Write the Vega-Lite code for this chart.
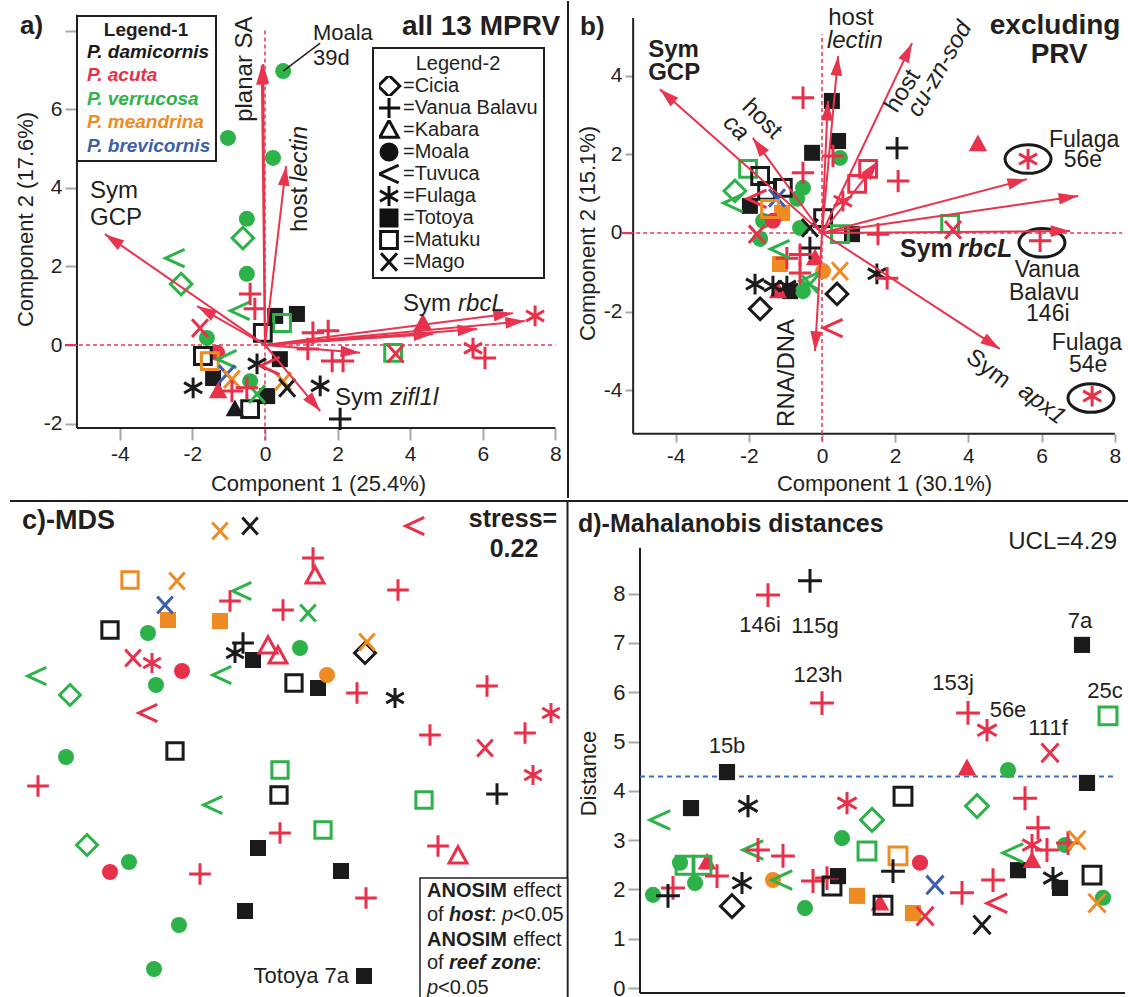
{
"$schema":"https://vega.github.io/schema/vega-lite/v6.json",
"padding":0,
"background":"white",
"spacing":0,
"config":{
 "view":{"stroke":null},
 "font":"Liberation Sans",
 "axis":{"domain":false,"grid":false,"tickColor":"#a8a8a8","tickWidth":2,"labelFontSize":21,"labelColor":"#231f20","labelFont":"Liberation Sans","titleFont":"Liberation Sans","titleFontSize":22,"titleFontWeight":"normal","titleColor":"#231f20","labelPadding":3},
 "text":{"font":"Liberation Sans","color":"#231f20"}
},
"datasets":{
 "a_pts":[
  {"sp":"P. verrucosa","site":"Moala","x":-1.02,"y":5.27},
  {"sp":"P. verrucosa","site":"Moala","x":0.22,"y":4.76},
  {"sp":"P. verrucosa","site":"Moala","x":0.50,"y":6.97},
  {"sp":"P. verrucosa","site":"Moala","x":-0.50,"y":3.21},
  {"sp":"P. verrucosa","site":"Cicia","x":-0.61,"y":2.72},
  {"sp":"P. verrucosa","site":"Moala","x":-0.50,"y":1.81},
  {"sp":"P. verrucosa","site":"Tuvuca","x":-2.48,"y":2.21},
  {"sp":"P. verrucosa","site":"Cicia","x":-2.31,"y":1.55},
  {"sp":"P. verrucosa","site":"Tuvuca","x":-0.69,"y":0.87},
  {"sp":"P. acuta","site":"Vanua Balavu","x":-0.41,"y":1.30},
  {"sp":"P. acuta","site":"Vanua Balavu","x":-0.28,"y":0.92},
  {"sp":"P. damicornis","site":"Totoya","x":0.28,"y":0.74},
  {"sp":"P. damicornis","site":"Totoya","x":0.88,"y":0.79},
  {"sp":"P. verrucosa","site":"Matuku","x":0.47,"y":0.56},
  {"sp":"P. damicornis","site":"Matuku","x":-0.06,"y":0.31},
  {"sp":"P. acuta","site":"Vanua Balavu","x":1.32,"y":0.31},
  {"sp":"P. acuta","site":"Vanua Balavu","x":1.74,"y":0.36},
  {"sp":"P. acuta","site":"Vanua Balavu","x":1.18,"y":-0.10},
  {"sp":"P. acuta","site":"Vanua Balavu","x":1.85,"y":-0.41},
  {"sp":"P. acuta","site":"Vanua Balavu","x":2.15,"y":-0.41},
  {"sp":"P. verrucosa","site":"Matuku","x":3.53,"y":-0.20},
  {"sp":"P. acuta","site":"Mago","x":3.60,"y":-0.22},
  {"sp":"P. acuta","site":"Fulaga","x":5.73,"y":-0.08},
  {"sp":"P. acuta","site":"Vanua Balavu","x":6.06,"y":-0.33},
  {"sp":"P. acuta","site":"Fulaga","x":7.44,"y":0.74},
  {"sp":"P. acuta","site":"Kabara","x":4.35,"y":0.56},
  {"sp":"P. damicornis","site":"Fulaga","x":1.52,"y":-1.04},
  {"sp":"P. damicornis","site":"Vanua Balavu","x":2.07,"y":-1.88},
  {"sp":"P. acuta","site":"Mago","x":-1.79,"y":0.43},
  {"sp":"P. verrucosa","site":"Moala","x":-1.60,"y":0.18},
  {"sp":"P. damicornis","site":"Matuku","x":-1.71,"y":-0.28},
  {"sp":"P. acuta","site":"Moala","x":-1.32,"y":-0.20},
  {"sp":"P. meandrina","site":"Matuku","x":-1.52,"y":-0.41},
  {"sp":"P. verrucosa","site":"Tuvuca","x":-1.05,"y":-0.36},
  {"sp":"P. damicornis","site":"Fulaga","x":-0.22,"y":-0.48},
  {"sp":"P. damicornis","site":"Totoya","x":0.41,"y":-0.36},
  {"sp":"P. brevicornis","site":"Mago","x":-1.05,"y":-0.74},
  {"sp":"P. meandrina","site":"Mago","x":-0.91,"y":-0.87},
  {"sp":"P. meandrina","site":"Mago","x":0.50,"y":-0.92},
  {"sp":"P. damicornis","site":"Fulaga","x":-1.98,"y":-1.09},
  {"sp":"P. damicornis","site":"Totoya","x":-1.43,"y":-0.84},
  {"sp":"P. acuta","site":"Kabara","x":-1.29,"y":-1.17},
  {"sp":"P. acuta","site":"Vanua Balavu","x":-0.91,"y":-1.17},
  {"sp":"P. verrucosa","site":"Moala","x":-0.41,"y":-0.92},
  {"sp":"P. damicornis","site":"Totoya","x":0.06,"y":-1.30},
  {"sp":"P. damicornis","site":"Kabara","x":-0.83,"y":-1.63},
  {"sp":"P. damicornis","site":"Matuku","x":-0.41,"y":-1.63},
  {"sp":"P. damicornis","site":"Mago","x":0.61,"y":-1.09},
  {"sp":"P. verrucosa","site":"Mago","x":-0.22,"y":-1.25},
  {"sp":"P. acuta","site":"Vanua Balavu","x":-0.50,"y":-1.09},
  {"sp":"P. acuta","site":"Tuvuca","x":0.14,"y":-0.53}
 ],
 "a_vec":[
  {"x":-4.41,"y":2.82},{"x":-1.87,"y":0.99},{"x":-0.05,"y":7.15},{"x":-0.09,"y":7.12},{"x":0.58,"y":4.55},
  {"x":6.83,"y":0.81},{"x":7.16,"y":0.61},{"x":5.84,"y":0.41},{"x":4.63,"y":0.28},{"x":2.62,"y":-0.20},{"x":1.52,"y":-1.68}
 ],
 "b_pts":[
  {"sp":"P. acuta","site":"Vanua Balavu","x":-0.52,"y":3.44},
  {"sp":"P. damicornis","site":"Totoya","x":0.27,"y":3.36},
  {"sp":"P. damicornis","site":"Totoya","x":0.44,"y":2.34},
  {"sp":"P. damicornis","site":"Totoya","x":-0.27,"y":2.04},
  {"sp":"P. acuta","site":"Vanua Balavu","x":0.30,"y":1.96},
  {"sp":"P. verrucosa","site":"Moala","x":0.49,"y":1.91},
  {"sp":"P. acuta","site":"Vanua Balavu","x":-0.52,"y":1.53},
  {"sp":"P. verrucosa","site":"Matuku","x":-2.02,"y":1.63},
  {"sp":"P. damicornis","site":"Matuku","x":-1.69,"y":1.45},
  {"sp":"P. damicornis","site":"Matuku","x":-1.50,"y":1.07},
  {"sp":"P. damicornis","site":"Matuku","x":-1.07,"y":1.15},
  {"sp":"P. verrucosa","site":"Cicia","x":-2.38,"y":1.07},
  {"sp":"P. verrucosa","site":"Tuvuca","x":-2.43,"y":0.76},
  {"sp":"P. acuta","site":"Tuvuca","x":-1.78,"y":0.87},
  {"sp":"P. brevicornis","site":"Mago","x":-1.23,"y":0.89},
  {"sp":"P. meandrina","site":"Matuku","x":-1.42,"y":0.61},
  {"sp":"P. meandrina","site":"Totoya","x":-1.09,"y":0.51},
  {"sp":"P. verrucosa","site":"Moala","x":-0.52,"y":1.15},
  {"sp":"P. verrucosa","site":"Moala","x":-0.68,"y":0.87},
  {"sp":"P. damicornis","site":"Totoya","x":-1.97,"y":0.69},
  {"sp":"P. verrucosa","site":"Moala","x":-1.61,"y":0.31},
  {"sp":"P. acuta","site":"Moala","x":-1.34,"y":0.31},
  {"sp":"P. acuta","site":"Mago","x":-1.78,"y":-0.03},
  {"sp":"P. verrucosa","site":"Moala","x":-1.69,"y":-0.15},
  {"sp":"P. verrucosa","site":"Moala","x":-0.60,"y":0.13},
  {"sp":"P. damicornis","site":"Mago","x":-0.33,"y":0.13},
  {"sp":"P. damicornis","site":"Matuku","x":0.03,"y":0.38},
  {"sp":"P. damicornis","site":"Vanua Balavu","x":-0.33,"y":-0.38},
  {"sp":"P. acuta","site":"Kabara","x":-0.19,"y":-0.64},
  {"sp":"P. acuta","site":"Vanua Balavu","x":-0.96,"y":-0.64},
  {"sp":"P. meandrina","site":"Totoya","x":-1.15,"y":-0.79},
  {"sp":"P. meandrina","site":"Moala","x":0.03,"y":-0.97},
  {"sp":"P. meandrina","site":"Mago","x":0.49,"y":-0.97},
  {"sp":"P. damicornis","site":"Cicia","x":0.41,"y":-1.55},
  {"sp":"P. acuta","site":"Tuvuca","x":0.30,"y":-2.42},
  {"sp":"P. damicornis","site":"Fulaga","x":-1.83,"y":-1.30},
  {"sp":"P. damicornis","site":"Fulaga","x":-1.34,"y":-1.35},
  {"sp":"P. damicornis","site":"Fulaga","x":-0.96,"y":-1.35},
  {"sp":"P. damicornis","site":"Totoya","x":-0.87,"y":-1.48},
  {"sp":"P. acuta","site":"Kabara","x":-1.20,"y":-1.48},
  {"sp":"P. verrucosa","site":"Moala","x":-0.52,"y":-1.48},
  {"sp":"P. damicornis","site":"Cicia","x":-1.69,"y":-1.93},
  {"sp":"P. verrucosa","site":"Mago","x":-0.33,"y":-1.30},
  {"sp":"P. damicornis","site":"Vanua Balavu","x":2.05,"y":2.16},
  {"sp":"P. acuta","site":"Vanua Balavu","x":2.08,"y":1.32},
  {"sp":"P. acuta","site":"Matuku","x":1.26,"y":1.63},
  {"sp":"P. acuta","site":"Matuku","x":0.96,"y":1.25},
  {"sp":"P. acuta","site":"Fulaga","x":0.57,"y":0.81},
  {"sp":"P. acuta","site":"Vanua Balavu","x":1.53,"y":-0.03},
  {"sp":"P. damicornis","site":"Totoya","x":0.82,"y":-0.03},
  {"sp":"P. verrucosa","site":"Matuku","x":0.49,"y":-0.03},
  {"sp":"P. verrucosa","site":"Matuku","x":3.50,"y":0.23},
  {"sp":"P. acuta","site":"Mago","x":3.58,"y":0.08},
  {"sp":"P. damicornis","site":"Fulaga","x":1.50,"y":-1.04},
  {"sp":"P. acuta","site":"Vanua Balavu","x":1.78,"y":-1.15},
  {"sp":"P. acuta","site":"Kabara","x":4.26,"y":2.26},
  {"sp":"P. acuta","site":"Fulaga","x":5.63,"y":1.88},
  {"sp":"P. acuta","site":"Vanua Balavu","x":5.96,"y":-0.20},
  {"sp":"P. acuta","site":"Fulaga","x":7.38,"y":-4.15},
  {"sp":"P. verrucosa","site":"Tuvuca","x":-1.15,"y":-0.41},
  {"sp":"P. verrucosa","site":"Tuvuca","x":-0.33,"y":-1.22},
  {"sp":"P. acuta","site":"Vanua Balavu","x":-0.60,"y":-0.55},
  {"sp":"P. acuta","site":"Vanua Balavu","x":-0.60,"y":-1.02}
 ],
 "b_vec":[
  {"x":-4.43,"y":3.66},{"x":-1.89,"y":2.42},{"x":0.44,"y":4.50},{"x":0.16,"y":3.36},{"x":2.46,"y":4.83},{"x":1.53,"y":1.83},
  {"x":5.60,"y":1.37},{"x":7.00,"y":0.94},{"x":6.78,"y":0.05},{"x":4.86,"y":-2.95},{"x":-0.19,"y":-3.00}
 ],
 "b_out":[{"x":5.63,"y":1.88},{"x":6.01,"y":-0.25},{"x":7.35,"y":-4.2}],
 "c_pts":[
  {"sp":"P. meandrina","site":"Mago","x":-0.64,"y":2.19},
  {"sp":"P. damicornis","site":"Mago","x":-0.34,"y":2.24},
  {"sp":"P. meandrina","site":"Matuku","x":-1.54,"y":1.70},
  {"sp":"P. meandrina","site":"Mago","x":-1.07,"y":1.69},
  {"sp":"P. brevicornis","site":"Mago","x":-1.19,"y":1.45},
  {"sp":"P. meandrina","site":"Totoya","x":-1.16,"y":1.30},
  {"sp":"P. meandrina","site":"Totoya","x":-0.64,"y":1.29},
  {"sp":"P. verrucosa","site":"Tuvuca","x":-0.42,"y":1.59},
  {"sp":"P. acuta","site":"Vanua Balavu","x":-0.54,"y":1.49},
  {"sp":"P. acuta","site":"Vanua Balavu","x":-0.01,"y":1.40},
  {"sp":"P. damicornis","site":"Matuku","x":-1.74,"y":1.20},
  {"sp":"P. verrucosa","site":"Moala","x":-1.36,"y":1.17},
  {"sp":"P. acuta","site":"Mago","x":-1.51,"y":0.92},
  {"sp":"P. acuta","site":"Fulaga","x":-1.32,"y":0.87},
  {"sp":"P. acuta","site":"Moala","x":-1.02,"y":0.79},
  {"sp":"P. verrucosa","site":"Moala","x":-1.28,"y":0.65},
  {"sp":"P. verrucosa","site":"Tuvuca","x":-2.47,"y":0.74},
  {"sp":"P. verrucosa","site":"Cicia","x":-2.14,"y":0.55},
  {"sp":"P. acuta","site":"Tuvuca","x":-1.36,"y":0.37},
  {"sp":"P. verrucosa","site":"Tuvuca","x":-0.62,"y":0.75},
  {"sp":"P. damicornis","site":"Fulaga","x":-0.49,"y":0.97},
  {"sp":"P. damicornis","site":"Vanua Balavu","x":-0.41,"y":1.07},
  {"sp":"P. damicornis","site":"Totoya","x":-0.31,"y":0.90},
  {"sp":"P. acuta","site":"Kabara","x":-0.16,"y":1.04},
  {"sp":"P. acuta","site":"Kabara","x":-0.06,"y":0.94},
  {"sp":"P. damicornis","site":"Matuku","x":-1.09,"y":-0.01},
  {"sp":"P. verrucosa","site":"Moala","x":-2.18,"y":-0.07},
  {"sp":"P. acuta","site":"Vanua Balavu","x":-2.46,"y":-0.36},
  {"sp":"P. verrucosa","site":"Tuvuca","x":-0.71,"y":-0.55},
  {"sp":"P. verrucosa","site":"Matuku","x":-0.04,"y":-0.20},
  {"sp":"P. damicornis","site":"Matuku","x":-0.05,"y":-0.45},
  {"sp":"P. acuta","site":"Vanua Balavu","x":-0.04,"y":-0.83},
  {"sp":"P. damicornis","site":"Totoya","x":-0.26,"y":-0.98},
  {"sp":"P. verrucosa","site":"Cicia","x":-1.97,"y":-0.95},
  {"sp":"P. verrucosa","site":"Moala","x":-1.55,"y":-1.12},
  {"sp":"P. acuta","site":"Moala","x":-1.74,"y":-1.22},
  {"sp":"P. acuta","site":"Vanua Balavu","x":-0.84,"y":-1.24},
  {"sp":"P. damicornis","site":"Totoya","x":-0.39,"y":-1.61},
  {"sp":"P. verrucosa","site":"Moala","x":-1.05,"y":-1.75},
  {"sp":"P. verrucosa","site":"Moala","x":-1.30,"y":-2.19},
  {"sp":"P. acuta","site":"Tuvuca","x":1.31,"y":2.24},
  {"sp":"P. acuta","site":"Vanua Balavu","x":0.29,"y":1.92},
  {"sp":"P. acuta","site":"Kabara","x":0.31,"y":1.74},
  {"sp":"P. acuta","site":"Vanua Balavu","x":1.14,"y":1.60},
  {"sp":"P. verrucosa","site":"Mago","x":0.24,"y":1.37},
  {"sp":"P. verrucosa","site":"Moala","x":0.16,"y":1.02},
  {"sp":"P. damicornis","site":"Cicia","x":0.81,"y":0.97},
  {"sp":"P. meandrina","site":"Mago","x":0.83,"y":1.08},
  {"sp":"P. damicornis","site":"Matuku","x":0.10,"y":0.67},
  {"sp":"P. damicornis","site":"Totoya","x":0.34,"y":0.62},
  {"sp":"P. meandrina","site":"Moala","x":0.43,"y":0.75},
  {"sp":"P. acuta","site":"Vanua Balavu","x":0.73,"y":0.57},
  {"sp":"P. damicornis","site":"Fulaga","x":1.11,"y":0.52},
  {"sp":"P. acuta","site":"Vanua Balavu","x":2.03,"y":0.64},
  {"sp":"P. acuta","site":"Fulaga","x":2.67,"y":0.37},
  {"sp":"P. acuta","site":"Vanua Balavu","x":2.41,"y":0.17},
  {"sp":"P. acuta","site":"Mago","x":2.01,"y":0.02},
  {"sp":"P. acuta","site":"Vanua Balavu","x":1.46,"y":0.15},
  {"sp":"P. acuta","site":"Fulaga","x":2.49,"y":-0.25},
  {"sp":"P. damicornis","site":"Vanua Balavu","x":2.13,"y":-0.44},
  {"sp":"P. verrucosa","site":"Matuku","x":1.40,"y":-0.50},
  {"sp":"P. verrucosa","site":"Matuku","x":0.39,"y":-0.80},
  {"sp":"P. acuta","site":"Vanua Balavu","x":1.54,"y":-0.96},
  {"sp":"P. acuta","site":"Kabara","x":1.74,"y":-1.06},
  {"sp":"P. damicornis","site":"Totoya","x":0.57,"y":-1.21},
  {"sp":"P. acuta","site":"Vanua Balavu","x":0.82,"y":-1.48},
  {"sp":"P. damicornis","site":"Totoya","x":0.80,"y":-2.26}
 ],
 "d_pts":[
  {"sp":"P. acuta","site":"Vanua Balavu","order":128,"dist":7.97},
  {"sp":"P. damicornis","site":"Vanua Balavu","order":170,"dist":8.26},
  {"sp":"P. acuta","site":"Vanua Balavu","order":182,"dist":5.78},
  {"sp":"P. damicornis","site":"Totoya","order":87,"dist":4.38},
  {"sp":"P. verrucosa","site":"Tuvuca","order":20,"dist":3.41},
  {"sp":"P. damicornis","site":"Totoya","order":51,"dist":3.65},
  {"sp":"P. damicornis","site":"Fulaga","order":108,"dist":3.69},
  {"sp":"P. acuta","site":"Fulaga","order":207,"dist":3.75},
  {"sp":"P. verrucosa","site":"Moala","order":202,"dist":3.04},
  {"sp":"P. verrucosa","site":"Tuvuca","order":113,"dist":2.80},
  {"sp":"P. acuta","site":"Vanua Balavu","order":118,"dist":2.80},
  {"sp":"P. acuta","site":"Vanua Balavu","order":143,"dist":2.68},
  {"sp":"P. verrucosa","site":"Moala","order":40,"dist":2.54},
  {"sp":"P. verrucosa","site":"Moala","order":55,"dist":2.13},
  {"sp":"P. verrucosa","site":"Moala","order":13,"dist":1.89},
  {"sp":"P. verrucosa","site":"Matuku","order":45,"dist":2.49},
  {"sp":"P. verrucosa","site":"Matuku","order":62,"dist":2.49},
  {"sp":"P. acuta","site":"Vanua Balavu","order":77,"dist":2.27},
  {"sp":"P. acuta","site":"Vanua Balavu","order":33,"dist":2.03},
  {"sp":"P. acuta","site":"Kabara","order":67,"dist":2.55},
  {"sp":"P. damicornis","site":"Vanua Balavu","order":28,"dist":1.87},
  {"sp":"P. damicornis","site":"Fulaga","order":102,"dist":2.13},
  {"sp":"P. damicornis","site":"Cicia","order":92,"dist":1.66},
  {"sp":"P. meandrina","site":"Moala","order":133,"dist":2.19},
  {"sp":"P. verrucosa","site":"Tuvuca","order":142,"dist":2.19},
  {"sp":"P. verrucosa","site":"Moala","order":165,"dist":1.62},
  {"sp":"P. acuta","site":"Vanua Balavu","order":173,"dist":2.17},
  {"sp":"P. acuta","site":"Vanua Balavu","order":187,"dist":2.23},
  {"sp":"P. damicornis","site":"Matuku","order":192,"dist":2.07},
  {"sp":"P. damicornis","site":"Totoya","order":198,"dist":2.27},
  {"sp":"P. meandrina","site":"Totoya","order":217,"dist":1.87},
  {"sp":"P. verrucosa","site":"Matuku","order":227,"dist":2.78},
  {"sp":"P. damicornis","site":"Matuku","order":263,"dist":3.89},
  {"sp":"P. verrucosa","site":"Cicia","order":232,"dist":3.41},
  {"sp":"P. meandrina","site":"Matuku","order":258,"dist":2.68},
  {"sp":"P. acuta","site":"Moala","order":280,"dist":2.54},
  {"sp":"P. damicornis","site":"Vanua Balavu","order":253,"dist":2.37},
  {"sp":"P. damicornis","site":"Matuku","order":243,"dist":1.68},
  {"sp":"P. acuta","site":"Kabara","order":240,"dist":1.72},
  {"sp":"P. meandrina","site":"Totoya","order":273,"dist":1.52},
  {"sp":"P. acuta","site":"Mago","order":285,"dist":1.46},
  {"sp":"P. brevicornis","site":"Mago","order":295,"dist":2.09},
  {"sp":"P. acuta","site":"Vanua Balavu","order":322,"dist":1.93},
  {"sp":"P. acuta","site":"Vanua Balavu","order":353,"dist":2.19},
  {"sp":"P. acuta","site":"Tuvuca","order":357,"dist":1.72},
  {"sp":"P. damicornis","site":"Mago","order":342,"dist":1.28},
  {"sp":"P. acuta","site":"Vanua Balavu","order":328,"dist":5.58},
  {"sp":"P. acuta","site":"Fulaga","order":347,"dist":5.23},
  {"sp":"P. acuta","site":"Kabara","order":327,"dist":4.46},
  {"sp":"P. verrucosa","site":"Moala","order":368,"dist":4.42},
  {"sp":"P. verrucosa","site":"Cicia","order":337,"dist":3.69},
  {"sp":"P. acuta","site":"Mago","order":410,"dist":4.77},
  {"sp":"P. acuta","site":"Vanua Balavu","order":385,"dist":3.85},
  {"sp":"P. acuta","site":"Vanua Balavu","order":398,"dist":3.25},
  {"sp":"P. acuta","site":"Fulaga","order":392,"dist":2.90},
  {"sp":"P. acuta","site":"Vanua Balavu","order":407,"dist":2.80},
  {"sp":"P. verrucosa","site":"Tuvuca","order":373,"dist":2.74},
  {"sp":"P. damicornis","site":"Totoya","order":378,"dist":2.39},
  {"sp":"P. acuta","site":"Kabara","order":392,"dist":2.58},
  {"sp":"P. acuta","site":"Vanua Balavu","order":428,"dist":2.94},
  {"sp":"P. verrucosa","site":"Moala","order":425,"dist":2.90},
  {"sp":"P. meandrina","site":"Mago","order":437,"dist":3.00},
  {"sp":"P. damicornis","site":"Fulaga","order":413,"dist":2.23},
  {"sp":"P. damicornis","site":"Totoya","order":420,"dist":2.03},
  {"sp":"P. damicornis","site":"Matuku","order":452,"dist":2.29},
  {"sp":"P. damicornis","site":"Totoya","order":447,"dist":4.16},
  {"sp":"P. damicornis","site":"Totoya","order":442,"dist":6.96},
  {"sp":"P. verrucosa","site":"Matuku","order":468,"dist":5.52},
  {"sp":"P. verrucosa","site":"Moala","order":463,"dist":1.83},
  {"sp":"P. meandrina","site":"Mago","order":457,"dist":1.72}
 ],
 "d_lab":[
  {"order":120,"dist":7.36,"text":"146i"},{"order":175,"dist":7.34,"text":"115g"},{"order":178,"dist":6.35,"text":"123h"},
  {"order":87,"dist":4.91,"text":"15b"},{"order":313,"dist":6.19,"text":"153j"},{"order":368,"dist":5.64,"text":"56e"},
  {"order":408,"dist":5.27,"text":"111f"},{"order":440,"dist":7.44,"text":"7a"},{"order":465,"dist":6.02,"text":"25c"}
 ]
},
"vconcat":[
 {"spacing":0,"bounds":"flush","hconcat":[
  {"width":568,"height":497,"data":{"values":[{}]},
   "layer":[
    {"mark":{"type":"rule","color":"#231f20","strokeWidth":2},
     "encoding":{
      "x":{"datum":-5.18,"type":"quantitative","scale":{"domain":[-7.3,8.347],"nice":false,"zero":false},
           "axis":{"orient":"bottom","offset":-70,"values":[-4,-2,0,2,4,6,8],"labelExpr":"''+datum.value","tickSize":12,"title":"Component 1  (25.4%)","titleX":318,"titleY":55,"titleAlign":"center","titleBaseline":"middle","titleAngle":0}},
      "y":{"datum":-2.11,"type":"quantitative","scale":{"domain":[-3.893,8.753],"nice":false,"zero":false},
           "axis":{"orient":"left","offset":-77,"values":[-2,0,2,4,6,8],"labelExpr":"datum.value==8?'':''+datum.value","tickSize":12,"title":"Component 2  (17.6%)","titleX":-52,"titleY":218,"titleAngle":-90,"titleAlign":"center","titleBaseline":"middle"}},
      "y2":{"datum":8.4}}},
    {"mark":{"type":"rule","color":"#231f20","strokeWidth":2},"encoding":{"x":{"datum":-5.18},"x2":{"datum":8.0},"y":{"datum":-2.11}}},
    {"mark":{"type":"rule","color":"#e8344e","strokeWidth":1.5,"strokeDash":[4,3]},"encoding":{"x":{"datum":-5.51},"x2":{"datum":8.0},"y":{"datum":0}}},
    {"mark":{"type":"rule","color":"#e8344e","strokeWidth":1.5,"strokeDash":[4,3]},"encoding":{"x":{"datum":0},"y":{"datum":-2.43},"y2":{"datum":8.0}}},
    {"mark":{"type":"rule","color":"#e8344e","strokeWidth":2},"encoding":{"x":{"datum":-5.51},"x2":{"datum":-5.18},"y":{"datum":0}}},
    {"mark":{"type":"rule","color":"#231f20","strokeWidth":2},"encoding":{"x":{"datum":8.347},"y":{"datum":-3.893},"y2":{"datum":8.753}}},
    {"data":{"name":"a_pts"},"transform":[{"filter":"indexof(['Moala','Totoya','Kabara'],datum.site)>=0"}],
     "mark":{"type":"point","filled":true,"size":256,"opacity":1},
     "encoding":{"x":{"field":"x","type":"quantitative"},"y":{"field":"y","type":"quantitative"},
      "color":{"field":"sp","type":"nominal","scale":{"domain":["P. damicornis","P. acuta","P. verrucosa","P. meandrina","P. brevicornis"],"range":["#1a1a1a","#e8304a","#2db24a","#ef8b23","#3d5fab"]},
        "legend":{"orient":"none","legendX":77,"legendY":15,"title":"Legend-1","titleFontSize":19,"titleFontWeight":"bold","titleAnchor":"middle","titlePadding":2,"titleColor":"#231f20","titleFont":"Liberation Sans","labelFont":"Liberation Sans","labelFontSize":19,"labelFontWeight":"bold","labelFontStyle":"italic","symbolSize":1,"symbolOpacity":0,"symbolStrokeWidth":0,"labelOffset":-14,"rowPadding":3.5,"padding":5,"strokeColor":"#231f20","fillColor":"white",
          "encode":{"labels":{"update":{"fill":{"scale":"color","field":"value"}}},"legend":{"update":{"strokeWidth":{"value":2}}}}}},
      "shape":{"field":"site","type":"nominal","scale":{"domain":["Cicia","Vanua Balavu","Kabara","Moala","Tuvuca","Fulaga","Totoya","Matuku","Mago"],"range":["M0,-1.35L1.35,0L0,1.35L-1.35,0Z","M-1.4,0L1.4,0M0,-1.4L0,1.4","M0,-1.2L1.15,0.9L-1.15,0.9Z","circle","M1.2,-1.1L-1.2,0L1.2,1.1","M0,-1.3L0,1.3M-1.13,-0.65L1.13,0.65M-1.13,0.65L1.13,-0.65","square","M-1.05,-1.05L1.05,-1.05L1.05,1.05L-1.05,1.05Z","M-1,-1.1L1,1.1M-1,1.1L1,-1.1"]},
        "legend":{"orient":"none","legendX":373,"legendY":47,"title":"Legend-2","titleFontSize":20,"titleFontWeight":"normal","titleAnchor":"middle","titlePadding":2,"titleColor":"#231f20","titleFont":"Liberation Sans","labelFont":"Liberation Sans","labelFontSize":20,"labelColor":"#231f20","labelExpr":"'='+datum.label","symbolSize":256,"symbolStrokeWidth":3,"symbolStrokeColor":"#111","symbolFillColor":"transparent","symbolOpacity":1,"labelOffset":4,"rowPadding":2,"clipHeight":20,"padding":6,"strokeColor":"#231f20","fillColor":"white",
          "encode":{"symbols":{"update":{"fill":{"signal":"indexof(['Moala','Totoya'],datum.value)>=0?'#111':'transparent'"},"stroke":{"value":"#111"},"strokeWidth":{"value":3},"opacity":{"value":1}}},"legend":{"update":{"strokeWidth":{"value":2}}}}}}}},
    {"data":{"name":"a_pts"},"transform":[{"filter":"indexof(['Moala','Totoya','Kabara'],datum.site)<0"}],
     "mark":{"type":"point","filled":false,"size":256,"opacity":1,"strokeWidth":3},
     "encoding":{"x":{"field":"x","type":"quantitative"},"y":{"field":"y","type":"quantitative"},
      "color":{"field":"sp","type":"nominal","legend":null},"shape":{"field":"site","type":"nominal","legend":null}}},
    {"data":{"name":"a_vec"},"mark":{"type":"rule","color":"#e8344e","strokeWidth":2},
     "encoding":{"x":{"field":"x","type":"quantitative"},"y":{"field":"y","type":"quantitative"},"x2":{"datum":0},"y2":{"datum":0}}},
    {"data":{"name":"a_vec"},"transform":[{"calculate":"(atan2(datum.x*36.3,datum.y*39.3)*180/PI+360)%360","as":"ang"}],
     "mark":{"type":"point","shape":"M0,0L0.6,2L-0.6,2Z","filled":true,"size":380,"opacity":1,"color":"#e8344e"},
     "encoding":{"x":{"field":"x","type":"quantitative"},"y":{"field":"y","type":"quantitative"},"angle":{"field":"ang","type":"quantitative","scale":null}}},
    {"mark":{"type":"rule","color":"#231f20","strokeWidth":1.5},"encoding":{"x":{"datum":0.5},"y":{"datum":6.97},"x2":{"datum":1.52},"y2":{"datum":7.68}}},
    {"mark":{"type":"text","text":"a)","fontSize":26,"fontWeight":"bold","align":"left"},"encoding":{"x":{"datum":-6.75},"y":{"datum":8.12}}},
    {"mark":{"type":"text","text":"all 13 MPRV","fontSize":28,"fontWeight":"bold","align":"right"},"encoding":{"x":{"datum":8.13},"y":{"datum":8.09}}},
    {"mark":{"type":"text","text":"planar SA","fontSize":24,"angle":270},"encoding":{"x":{"datum":-0.55},"y":{"datum":7.02}}},
    {"mark":{"type":"text","text":"host","fontSize":24,"angle":270},"encoding":{"x":{"datum":0.96},"y":{"datum":3.45}}},
    {"mark":{"type":"text","text":"lectin","fontSize":24,"fontStyle":"italic","angle":270},"encoding":{"x":{"datum":0.96},"y":{"datum":4.86}}},
    {"mark":{"type":"text","text":"Sym","fontSize":24,"align":"left"},"encoding":{"x":{"datum":-4.82},"y":{"datum":3.92}}},
    {"mark":{"type":"text","text":"GCP","fontSize":24,"align":"left"},"encoding":{"x":{"datum":-4.82},"y":{"datum":3.23}}},
    {"mark":{"type":"text","text":"Moala","fontSize":22,"align":"left"},"encoding":{"x":{"datum":1.32},"y":{"datum":7.94}}},
    {"mark":{"type":"text","text":"39d","fontSize":22,"align":"left"},"encoding":{"x":{"datum":1.32},"y":{"datum":7.30}}},
    {"mark":{"type":"text","text":"Sym","fontSize":24,"align":"left"},"encoding":{"x":{"datum":3.80},"y":{"datum":1.04}}},
    {"mark":{"type":"text","text":"rbcL","fontSize":24,"fontStyle":"italic","align":"left"},"encoding":{"x":{"datum":5.32},"y":{"datum":1.04}}},
    {"mark":{"type":"text","text":"Sym","fontSize":24,"align":"left"},"encoding":{"x":{"datum":1.93},"y":{"datum":-1.35}}},
    {"mark":{"type":"text","text":"zifl1l","fontSize":24,"fontStyle":"italic","align":"left"},"encoding":{"x":{"datum":3.45},"y":{"datum":-1.35}}}
   ]},
  {"width":560,"height":497,"data":{"values":[{}]},
   "layer":[
    {"mark":{"type":"rule","color":"#231f20","strokeWidth":2},
     "encoding":{
      "x":{"datum":-5.16,"type":"quantitative","scale":{"domain":[-6.94,8.361],"nice":false,"zero":false},
           "axis":{"orient":"bottom","offset":-64,"values":[-4,-2,0,2,4,6,8],"labelExpr":"''+datum.value","tickSize":8,"title":"Component 1  (30.1%)","titleX":316,"titleY":49,"titleAlign":"center","titleBaseline":"middle","titleAngle":0}},
      "y":{"datum":-5.11,"type":"quantitative","scale":{"domain":[-6.743,5.903],"nice":false,"zero":false},
           "axis":{"orient":"left","offset":-65,"values":[-4,-2,0,2,4],"labelExpr":"''+datum.value","tickSize":8,"title":"Component 2  (15.1%)","titleX":-46,"titleY":232,"titleAngle":-90,"titleAlign":"center","titleBaseline":"middle"}},
      "y2":{"datum":5.47}}},
    {"mark":{"type":"rule","color":"#231f20","strokeWidth":2},"encoding":{"x":{"datum":-5.16},"x2":{"datum":8.0},"y":{"datum":-5.11}}},
    {"mark":{"type":"rule","color":"#e8344e","strokeWidth":1.5,"strokeDash":[4,3]},"encoding":{"x":{"datum":-5.46},"x2":{"datum":8.2},"y":{"datum":0}}},
    {"mark":{"type":"rule","color":"#e8344e","strokeWidth":1.5,"strokeDash":[4,3]},"encoding":{"x":{"datum":0},"y":{"datum":-5.29},"y2":{"datum":5.06}}},
    {"mark":{"type":"rule","color":"#e8344e","strokeWidth":2},"encoding":{"x":{"datum":-5.46},"x2":{"datum":-5.16},"y":{"datum":0}}},
    {"data":{"name":"b_pts"},"transform":[{"filter":"indexof(['Moala','Totoya','Kabara'],datum.site)>=0"}],
     "mark":{"type":"point","filled":true,"size":256,"opacity":1},
     "encoding":{"x":{"field":"x","type":"quantitative"},"y":{"field":"y","type":"quantitative"},
      "color":{"field":"sp","type":"nominal","legend":null},"shape":{"field":"site","type":"nominal","legend":null}}},
    {"data":{"name":"b_pts"},"transform":[{"filter":"indexof(['Moala','Totoya','Kabara'],datum.site)<0"}],
     "mark":{"type":"point","filled":false,"size":256,"opacity":1,"strokeWidth":3},
     "encoding":{"x":{"field":"x","type":"quantitative"},"y":{"field":"y","type":"quantitative"},
      "color":{"field":"sp","type":"nominal","legend":null},"shape":{"field":"site","type":"nominal","legend":null}}},
    {"data":{"name":"b_out"},"mark":{"type":"point","shape":"M-1,0A1,0.62,0,1,1,1,0A1,0.62,0,1,1,-1,0Z","filled":false,"size":2116,"opacity":1,"strokeWidth":3,"color":"#1a1a1a"},
     "encoding":{"x":{"field":"x","type":"quantitative"},"y":{"field":"y","type":"quantitative"}}},
    {"data":{"name":"b_vec"},"mark":{"type":"rule","color":"#e8344e","strokeWidth":2},
     "encoding":{"x":{"field":"x","type":"quantitative"},"y":{"field":"y","type":"quantitative"},"x2":{"datum":0},"y2":{"datum":0}}},
    {"data":{"name":"b_vec"},"transform":[{"calculate":"(atan2(datum.x*36.6,datum.y*39.3)*180/PI+360)%360","as":"ang"}],
     "mark":{"type":"point","shape":"M0,0L0.6,2L-0.6,2Z","filled":true,"size":380,"opacity":1,"color":"#e8344e"},
     "encoding":{"x":{"field":"x","type":"quantitative"},"y":{"field":"y","type":"quantitative"},"angle":{"field":"ang","type":"quantitative","scale":null}}},
    {"mark":{"type":"text","text":"b)","fontSize":26,"fontWeight":"bold","align":"left"},"encoding":{"x":{"datum":-6.61},"y":{"datum":5.24}}},
    {"mark":{"type":"text","text":"Sym","fontSize":24,"fontWeight":"bold","align":"left"},"encoding":{"x":{"datum":-4.75},"y":{"datum":4.66}}},
    {"mark":{"type":"text","text":"GCP","fontSize":24,"fontWeight":"bold","align":"left"},"encoding":{"x":{"datum":-4.75},"y":{"datum":4.07}}},
    {"mark":{"type":"text","text":"host","fontSize":24,"angle":45},"encoding":{"x":{"datum":-1.64},"y":{"datum":2.90}}},
    {"mark":{"type":"text","text":"ca","fontSize":24,"fontStyle":"italic","angle":45},"encoding":{"x":{"datum":-2.35},"y":{"datum":2.67}}},
    {"mark":{"type":"text","text":"host","fontSize":24},"encoding":{"x":{"datum":0.79},"y":{"datum":5.47}}},
    {"mark":{"type":"text","text":"lectin","fontSize":24,"fontStyle":"italic"},"encoding":{"x":{"datum":0.90},"y":{"datum":4.89}}},
    {"mark":{"type":"text","text":"host","fontSize":24,"angle":302},"encoding":{"x":{"datum":2.21},"y":{"datum":3.61}}},
    {"mark":{"type":"text","text":"cu-zn-sod","fontSize":24,"fontStyle":"italic","angle":300},"encoding":{"x":{"datum":3.22},"y":{"datum":4.17}}},
    {"mark":{"type":"text","text":"excluding","fontSize":28,"fontWeight":"bold"},"encoding":{"x":{"datum":6.37},"y":{"datum":5.27}}},
    {"mark":{"type":"text","text":"PRV","fontSize":28,"fontWeight":"bold"},"encoding":{"x":{"datum":6.48},"y":{"datum":4.53}}},
    {"mark":{"type":"text","text":"Fulaga","fontSize":23},"encoding":{"x":{"datum":7.16},"y":{"datum":2.37}}},
    {"mark":{"type":"text","text":"56e","fontSize":23},"encoding":{"x":{"datum":7.13},"y":{"datum":1.86}}},
    {"mark":{"type":"text","text":"Sym","fontSize":25,"fontWeight":"bold","align":"left"},"encoding":{"x":{"datum":2.13},"y":{"datum":-0.41}}},
    {"mark":{"type":"text","text":"rbcL","fontSize":25,"fontWeight":"bold","fontStyle":"italic","align":"left"},"encoding":{"x":{"datum":3.72},"y":{"datum":-0.41}}},
    {"mark":{"type":"text","text":"Vanua","fontSize":23},"encoding":{"x":{"datum":6.15},"y":{"datum":-0.94}}},
    {"mark":{"type":"text","text":"Balavu","fontSize":23},"encoding":{"x":{"datum":6.07},"y":{"datum":-1.53}}},
    {"mark":{"type":"text","text":"146i","fontSize":23},"encoding":{"x":{"datum":6.17},"y":{"datum":-2.06}}},
    {"mark":{"type":"text","text":"Fulaga","fontSize":23},"encoding":{"x":{"datum":7.24},"y":{"datum":-2.80}}},
    {"mark":{"type":"text","text":"54e","fontSize":23},"encoding":{"x":{"datum":7.27},"y":{"datum":-3.36}}},
    {"mark":{"type":"text","text":"Sym","fontSize":24,"angle":37},"encoding":{"x":{"datum":4.54},"y":{"datum":-3.46}}},
    {"mark":{"type":"text","text":"apx1","fontSize":24,"fontStyle":"italic","angle":37},"encoding":{"x":{"datum":6.01},"y":{"datum":-4.35}}},
    {"mark":{"type":"text","text":"RNA/DNA","fontSize":24,"angle":270},"encoding":{"x":{"datum":-0.96},"y":{"datum":-3.56}}}
   ]}
 ]},
 {"spacing":0,"bounds":"flush","hconcat":[
  {"width":568,"height":500,"data":{"values":[{}]},
   "layer":[
    {"mark":{"type":"rule","color":"#231f20","strokeWidth":2},
     "encoding":{"x":{"datum":-2.74,"type":"quantitative","scale":{"domain":[-2.84,2.84],"nice":false,"zero":false},"axis":null},
      "x2":{"datum":2.84},
      "y":{"datum":2.49,"type":"quantitative","scale":{"domain":[-2.5,2.5],"nice":false,"zero":false},"axis":null}}},
    {"mark":{"type":"rule","color":"#231f20","strokeWidth":2},"encoding":{"x":{"datum":2.835,"axis":null},"y":{"datum":-2.5,"axis":null},"y2":{"datum":2.49}}},
    {"data":{"name":"c_pts"},"transform":[{"filter":"indexof(['Moala','Totoya'],datum.site)>=0"}],
     "mark":{"type":"point","filled":true,"size":256,"opacity":1},
     "encoding":{"x":{"field":"x","type":"quantitative","axis":null},"y":{"field":"y","type":"quantitative","axis":null},
      "color":{"field":"sp","type":"nominal","legend":null},"shape":{"field":"site","type":"nominal","legend":null}}},
    {"data":{"name":"c_pts"},"transform":[{"filter":"indexof(['Moala','Totoya'],datum.site)<0"}],
     "mark":{"type":"point","filled":false,"size":240,"opacity":1,"strokeWidth":3},
     "encoding":{"x":{"field":"x","type":"quantitative","axis":null},"y":{"field":"y","type":"quantitative","axis":null},
      "color":{"field":"sp","type":"nominal","legend":null},"shape":{"field":"site","type":"nominal","legend":null}}},
    {"mark":{"type":"rect","fill":"white","stroke":"#231f20","strokeWidth":1.5},"encoding":{"x":{"datum":1.36,"axis":null},"x2":{"datum":2.835},"y":{"datum":-1.28,"axis":null},"y2":{"datum":-2.52}}},
    {"mark":{"type":"text","text":"c)-MDS","fontSize":27,"fontWeight":"bold","align":"left"},"encoding":{"x":{"datum":-2.62,"axis":null},"y":{"datum":2.29,"axis":null}}},
    {"mark":{"type":"text","text":"stress=","fontSize":25,"fontWeight":"bold"},"encoding":{"x":{"datum":2.29,"axis":null},"y":{"datum":2.31,"axis":null}}},
    {"mark":{"type":"text","text":"0.22","fontSize":25,"fontWeight":"bold"},"encoding":{"x":{"datum":2.30,"axis":null},"y":{"datum":2.01,"axis":null}}},
    {"mark":{"type":"text","text":"Totoya 7a","fontSize":22,"align":"right"},"encoding":{"x":{"datum":0.65,"axis":null},"y":{"datum":-2.26,"axis":null}}},
    {"mark":{"type":"text","text":"ANOSIM","fontSize":20,"fontWeight":"bold","align":"left"},"encoding":{"x":{"datum":1.43,"axis":null},"y":{"datum":-1.41,"axis":null}}},
    {"mark":{"type":"text","text":"effect","fontSize":20,"align":"left"},"encoding":{"x":{"datum":2.29,"axis":null},"y":{"datum":-1.41,"axis":null}}},
    {"mark":{"type":"text","text":"of","fontSize":20,"align":"left"},"encoding":{"x":{"datum":1.43,"axis":null},"y":{"datum":-1.65,"axis":null}}},
    {"mark":{"type":"text","text":"host","fontSize":20,"fontWeight":"bold","fontStyle":"italic","align":"left"},"encoding":{"x":{"datum":1.65,"axis":null},"y":{"datum":-1.65,"axis":null}}},
    {"mark":{"type":"text","text":":","fontSize":20,"align":"left"},"encoding":{"x":{"datum":2.07,"axis":null},"y":{"datum":-1.65,"axis":null}}},
    {"mark":{"type":"text","text":"p","fontSize":20,"fontStyle":"italic","align":"left"},"encoding":{"x":{"datum":2.18,"axis":null},"y":{"datum":-1.65,"axis":null}}},
    {"mark":{"type":"text","text":"<0.05","fontSize":20,"align":"left"},"encoding":{"x":{"datum":2.29,"axis":null},"y":{"datum":-1.65,"axis":null}}},
    {"mark":{"type":"text","text":"ANOSIM","fontSize":20,"fontWeight":"bold","align":"left"},"encoding":{"x":{"datum":1.43,"axis":null},"y":{"datum":-1.90,"axis":null}}},
    {"mark":{"type":"text","text":"effect","fontSize":20,"align":"left"},"encoding":{"x":{"datum":2.29,"axis":null},"y":{"datum":-1.90,"axis":null}}},
    {"mark":{"type":"text","text":"of","fontSize":20,"align":"left"},"encoding":{"x":{"datum":1.43,"axis":null},"y":{"datum":-2.13,"axis":null}}},
    {"mark":{"type":"text","text":"reef zone","fontSize":20,"fontWeight":"bold","fontStyle":"italic","align":"left"},"encoding":{"x":{"datum":1.65,"axis":null},"y":{"datum":-2.13,"axis":null}}},
    {"mark":{"type":"text","text":":","fontSize":20,"align":"left"},"encoding":{"x":{"datum":2.52,"axis":null},"y":{"datum":-2.13,"axis":null}}},
    {"mark":{"type":"text","text":"p","fontSize":20,"fontStyle":"italic","align":"left"},"encoding":{"x":{"datum":1.43,"axis":null},"y":{"datum":-2.38,"axis":null}}},
    {"mark":{"type":"text","text":"<0.05","fontSize":20,"align":"left"},"encoding":{"x":{"datum":1.54,"axis":null},"y":{"datum":-2.38,"axis":null}}}
   ]},
  {"width":560,"height":500,"data":{"values":[{}]},
   "layer":[
    {"mark":{"type":"rule","color":"#231f20","strokeWidth":2},
     "encoding":{"x":{"datum":0,"type":"quantitative","scale":{"domain":[-72,488],"nice":false,"zero":false},"axis":null},
      "y":{"datum":-0.101,"type":"quantitative","scale":{"domain":[-0.243,9.899],"nice":false,"zero":false},
        "axis":{"orient":"left","offset":-72,"values":[0,1,2,3,4,5,6,7,8],"labelExpr":"''+datum.value","tickSize":12,"labelFontSize":22,"title":"Distance","titleX":-52,"titleY":273,"titleAngle":-90,"titleAlign":"center","titleBaseline":"middle"}},
      "y2":{"datum":8.93}}},
    {"mark":{"type":"rule","color":"#231f20","strokeWidth":2},"encoding":{"x":{"datum":0,"axis":null},"x2":{"datum":485},"y":{"datum":-0.101}}},
    {"mark":{"type":"rule","color":"#231f20","strokeWidth":2},"encoding":{"x":{"datum":-72,"axis":null},"x2":{"datum":488},"y":{"datum":9.88}}},
    {"mark":{"type":"rule","color":"#3b6fc7","strokeWidth":2,"strokeDash":[5,4]},"encoding":{"x":{"datum":0,"axis":null},"x2":{"datum":473},"y":{"datum":4.29}}},
    {"data":{"name":"d_pts"},"transform":[{"filter":"indexof(['Moala','Totoya','Kabara'],datum.site)>=0"}],
     "mark":{"type":"point","filled":true,"size":260,"opacity":1},
     "encoding":{"x":{"field":"order","type":"quantitative","axis":null},"y":{"field":"dist","type":"quantitative"},
      "color":{"field":"sp","type":"nominal","legend":null},"shape":{"field":"site","type":"nominal","legend":null}}},
    {"data":{"name":"d_pts"},"transform":[{"filter":"indexof(['Moala','Totoya','Kabara'],datum.site)<0"}],
     "mark":{"type":"point","filled":false,"size":290,"opacity":1,"strokeWidth":3},
     "encoding":{"x":{"field":"order","type":"quantitative","axis":null},"y":{"field":"dist","type":"quantitative"},
      "color":{"field":"sp","type":"nominal","legend":null},"shape":{"field":"site","type":"nominal","legend":null}}},
    {"data":{"name":"d_lab"},"mark":{"type":"text","fontSize":22},
     "encoding":{"x":{"field":"order","type":"quantitative","axis":null},"y":{"field":"dist","type":"quantitative"},"text":{"field":"text"}}},
    {"mark":{"type":"text","text":"d)-Mahalanobis distances","fontSize":25,"fontWeight":"bold","align":"left"},"encoding":{"x":{"datum":-62,"axis":null},"y":{"datum":9.41}}},
    {"mark":{"type":"text","text":"UCL=4.29","fontSize":24,"align":"right"},"encoding":{"x":{"datum":477,"axis":null},"y":{"datum":9.05}}}
   ]}
 ]}
]
}
